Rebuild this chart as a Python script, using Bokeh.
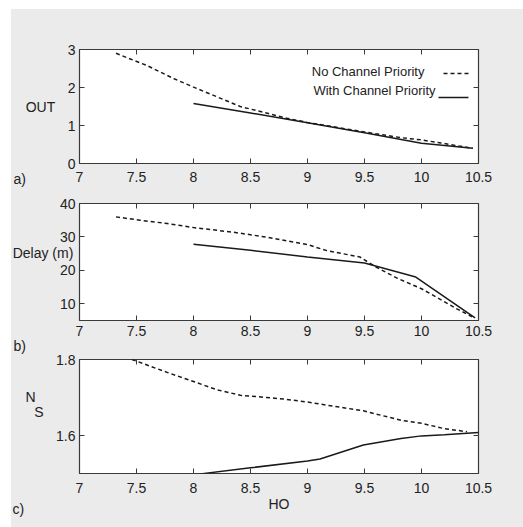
from bokeh.plotting import figure
from bokeh.layouts import column, row
from bokeh.models import Spacer, LinearAxis, FixedTicker, Range1d, Label, Arrow, GridBox
from bokeh.embed import file_html
from bokeh.resources import INLINE

FONT = "Liberation Sans"
INK = "#1a1a1a"
TEXT = "#222222"
FRAME = "#3a3a3a"
PANEL_BG = "#ebebeb"
W, H = 512, 518

# ---- data -------------------------------------------------------------
x_ticks = [7, 7.5, 8, 8.5, 9, 9.5, 10, 10.5]

# a) OUT
out_no_x = [7.32, 7.59, 7.83, 8.0, 8.21, 8.41, 8.65, 8.82, 9.0, 9.5, 9.82, 10.0, 10.17, 10.31, 10.45]
out_no_y = [2.90, 2.58, 2.23, 2.01, 1.75, 1.50, 1.32, 1.19, 1.08, 0.83, 0.68, 0.62, 0.54, 0.47, 0.40]
out_with_x = [8.0, 8.5, 9.0, 9.5, 10.0, 10.45]
out_with_y = [1.58, 1.33, 1.07, 0.81, 0.53, 0.40]
out_ticks = [0, 1, 2, 3]

# b) Delay (m)
delay_no_x = [7.32, 7.53, 7.77, 8.0, 8.35, 8.65, 9.0, 9.17, 9.46, 9.6, 9.79, 10.0, 10.31, 10.45]
delay_no_y = [36.0, 35.0, 34.0, 32.8, 31.4, 29.9, 27.7, 25.9, 24.0, 21.0, 17.6, 14.5, 8.5, 6.0]
delay_with_x = [8.0, 8.5, 9.0, 9.5, 9.95, 10.47]
delay_with_y = [27.8, 26.0, 24.0, 22.2, 18.0, 5.8]
delay_ticks = [10, 20, 30, 40]

# c) N_S
ns_no_x = [7.46, 7.77, 8.0, 8.21, 8.41, 8.79, 9.0, 9.23, 9.49, 9.82, 10.0, 10.2, 10.4]
ns_no_y = [1.800, 1.766, 1.742, 1.720, 1.706, 1.696, 1.688, 1.677, 1.665, 1.640, 1.632, 1.618, 1.610]
ns_with_x = [8.06, 8.5, 9.0, 9.11, 9.49, 9.82, 10.0, 10.2, 10.5]
ns_with_y = [1.499, 1.515, 1.533, 1.538, 1.575, 1.592, 1.599, 1.602, 1.608]
ns_ticks = [1.6, 1.8]

legend_labels = ["No Channel Priority", "With Channel Priority"]


def label(p, x, y, s, align="center", size="14px"):
    p.add_layout(Label(x=x, y=y, text=s, text_align=align, text_baseline="middle",
                       text_font=FONT, text_font_size=size, text_color=TEXT))


def panel(height, top, bottom, y_lo, y_hi, y_ticks, standoff):
    p = figure(width=W, height=height, x_range=Range1d(7, 10.5), y_range=Range1d(y_lo, y_hi),
               output_backend="svg", toolbar_location=None,
               min_border_left=68, min_border_right=45, min_border_top=top, min_border_bottom=bottom,
               background_fill_color="white", border_fill_color=PANEL_BG,
               outline_line_color=FRAME, outline_line_width=1.2,
               styles={"background-color": PANEL_BG})
    p.grid.visible = False
    # inward ticks on all four sides of the box
    p.add_layout(LinearAxis(), "above")
    p.add_layout(LinearAxis(), "right")
    for ax in p.xaxis:
        ax.ticker = FixedTicker(ticks=x_ticks)
    for ax in p.yaxis:
        ax.ticker = FixedTicker(ticks=y_ticks)
    for ax in p.axis:
        ax.axis_line_color = None
        ax.major_tick_in = 5
        ax.major_tick_out = 0
        ax.minor_tick_line_color = None
        ax.major_tick_line_color = FRAME
        ax.major_label_text_font = FONT
        ax.major_label_text_font_size = "14px"
        ax.major_label_text_color = TEXT
    for ax in (p.above[0], p.right[0]):
        ax.major_label_text_color = None
        ax.major_label_text_font_size = "1px"
        ax.major_label_standoff = 0
    p.below[0].major_label_standoff = standoff
    p.left[0].major_label_standoff = 4
    return p


# a) OUT against HO
pa = panel(181, 40, 27, 0, 3, out_ticks, 8)
pa.line(out_no_x, out_no_y, line_color=INK, line_width=1.5, line_dash="4 3")
pa.line(out_with_x, out_with_y, line_color=INK, line_width=1.5)
label(pa, 10.026, 2.434, legend_labels[0], align="right", size="13px")
label(pa, 10.123, 1.921, legend_labels[1], align="right", size="13px")
pa.add_layout(Arrow(end=None, x_start=10.193, y_start=2.368, x_end=10.430, y_end=2.368,
                    line_color=INK, line_width=1.5, line_dash="4 3"))
pa.add_layout(Arrow(end=None, x_start=10.149, y_start=1.737, x_end=10.412, y_end=1.737,
                    line_color=INK, line_width=1.5))

# b) Delay against HO
pb = panel(155, 13, 25, 5, 40, delay_ticks, 5)
pb.line(delay_no_x, delay_no_y, line_color=INK, line_width=1.5, line_dash="4 3")
pb.line(delay_with_x, delay_with_y, line_color=INK, line_width=1.5)

# c) N_S against HO
pc = panel(182, 14, 54, 1.5, 1.8, ns_ticks, 9)
pc.line(ns_no_x, ns_no_y, line_color=INK, line_width=1.5, line_dash="4 3")
pc.line(ns_with_x, ns_with_y, line_color=INK, line_width=1.5)
pc.below[0].axis_label = "HO"
pc.below[0].axis_label_standoff = 0
pc.below[0].axis_label_text_font = FONT
pc.below[0].axis_label_text_font_size = "14px"
pc.below[0].axis_label_text_font_style = "normal"
pc.below[0].axis_label_text_color = TEXT

panels = column(pa, pb, pc, spacing=0, styles={"background-color": PANEL_BG})

# transparent sheet over the three panels for the side captions (pixel units, y down)
sheet = figure(width=W, height=H, x_range=Range1d(0, W), y_range=Range1d(H, 0),
               output_backend="svg", toolbar_location=None,
               x_axis_location=None, y_axis_location=None, min_border=0,
               background_fill_alpha=0, border_fill_alpha=0, outline_line_color=None)
sheet.grid.visible = False
label(sheet, 29, 97, "OUT")
label(sheet, 2, 169, "a)", align="left")
label(sheet, 31.5, 243, "Delay (m)")
label(sheet, 2, 336, "b)", align="left")
label(sheet, 19, 387, "N")
label(sheet, 27.5, 402, "S")
label(sheet, 1, 499, "c)", align="left")

stack = GridBox(children=[(panels, 0, 0), (sheet, 0, 0)], styles={"background-color": PANEL_BG})
layout = row(Spacer(width=11), column(Spacer(height=9), stack, spacing=0), spacing=0)

open("out.html", "w").write(file_html(layout, INLINE))
